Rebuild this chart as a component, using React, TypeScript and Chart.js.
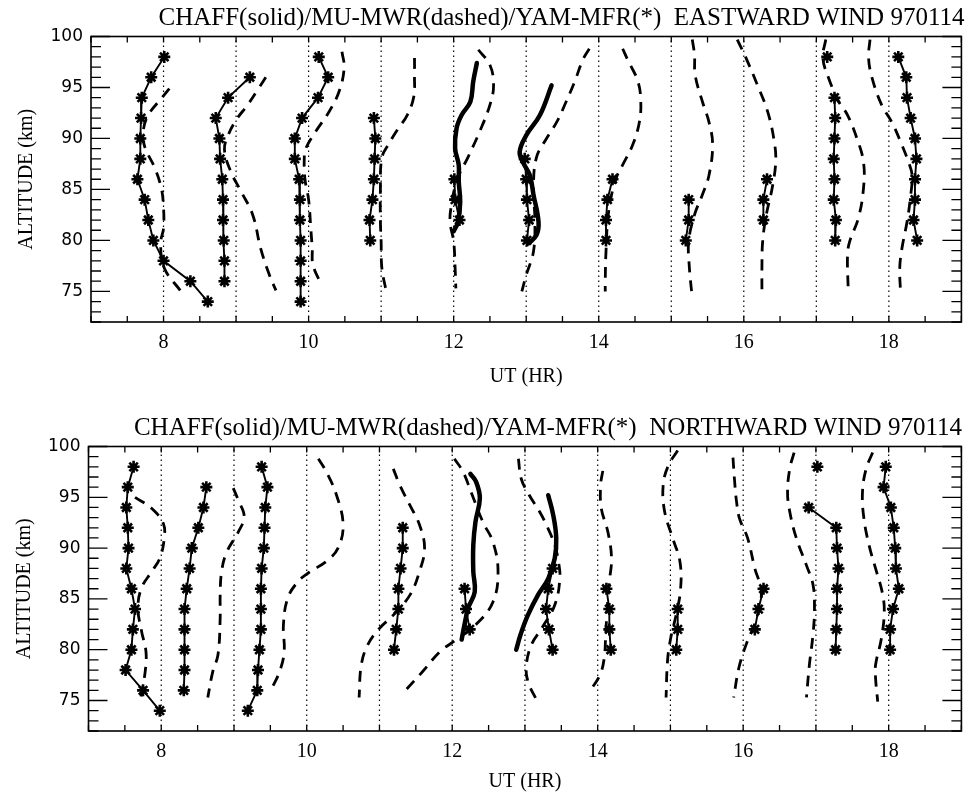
import React, { useEffect, useRef } from "react";
import { Chart, registerables } from "chart.js";

Chart.register(...registerables);

// ---------- axis settings ----------
const X_MIN = 7;
const X_MAX = 19;
const Y_MIN = 72;
const Y_MAX = 100;
const X_TICKS = [8, 10, 12, 14, 16, 18];
const Y_TICKS = [75, 80, 85, 90, 95, 100];
const HOUR_LINES = [8, 9, 10, 11, 12, 13, 14, 15, 16, 17, 18];

const TITLE_EAST = "CHAFF(solid)/MU-MWR(dashed)/YAM-MFR(*)  EASTWARD WIND 970114";
const TITLE_NORTH = "CHAFF(solid)/MU-MWR(dashed)/YAM-MFR(*)  NORTHWARD WIND 970114";

// ---------- EASTWARD: YAM-MFR (*) profiles [UT position, altitude km] ----------
const E_MFR_08 = [[8.01, 98], [7.83, 96], [7.7, 94], [7.69, 92], [7.68, 90], [7.68, 88], [7.64, 86], [7.74, 84], [7.79, 82], [7.86, 80], [8.0, 78], [8.37, 76], [8.61, 74]];
const E_MFR_09 = [[9.19, 96], [8.89, 94], [8.72, 92], [8.77, 90], [8.78, 88], [8.81, 86], [8.82, 84], [8.82, 82], [8.83, 80], [8.84, 78], [8.84, 76]];
const E_MFR_10 = [[10.14, 98], [10.27, 96], [10.13, 94], [9.91, 92], [9.81, 90], [9.81, 88], [9.87, 86], [9.88, 84], [9.88, 82], [9.89, 80], [9.89, 78], [9.89, 76], [9.89, 74]];
const E_MFR_11 = [[10.9, 92], [10.92, 90], [10.91, 88], [10.9, 86], [10.88, 84], [10.84, 82], [10.85, 80]];
const E_MFR_12 = [[12.01, 86], [12.02, 84], [12.08, 82]];
const E_MFR_13 = [[12.98, 88], [13.0, 86], [13.01, 84], [13.04, 82], [13.01, 80]];
const E_MFR_14 = [[14.19, 86], [14.12, 84], [14.1, 82], [14.1, 80]];
const E_MFR_15 = [[15.24, 84], [15.24, 82], [15.2, 80]];
const E_MFR_16 = [[16.32, 86], [16.27, 84], [16.27, 82]];
const E_MFR_17_SINGLE = [[17.15, 98]];
const E_MFR_17 = [[17.25, 94], [17.26, 92], [17.25, 90], [17.24, 88], [17.25, 86], [17.24, 84], [17.27, 82], [17.26, 80]];
const E_MFR_18 = [[18.13, 98], [18.24, 96], [18.25, 94], [18.3, 92], [18.36, 90], [18.38, 88], [18.36, 86], [18.36, 84], [18.34, 82], [18.39, 80]];

// ---------- EASTWARD: MU-MWR (dashed) ----------
const E_MWR_08 = [[8.08, 94.9], [7.99, 94.1], [7.79, 92.3], [7.72, 90.7], [7.74, 89.2], [7.88, 87.1], [7.97, 85.1], [8.0, 83.2], [8.0, 81.2], [7.96, 79.7], [8.01, 77.3], [8.24, 75.0]];
const E_MWR_09 = [[9.41, 96.0], [9.3, 94.8], [9.16, 93.3], [9.0, 91.8], [8.89, 90.3], [8.84, 88.9], [8.93, 86.7], [9.07, 84.8], [9.23, 82.5], [9.34, 79.2], [9.46, 76.6], [9.55, 75.1]];
const E_MWR_10 = [[10.46, 98.5], [10.49, 96.9], [10.42, 94.6], [10.28, 92.6], [10.1, 90.7], [9.96, 89.0], [9.94, 88.0], [9.95, 86.0], [10.0, 84.0], [10.03, 81.2], [10.05, 79.2], [10.06, 77.6], [10.18, 75.6]];
const E_MWR_11 = [[11.46, 97.9], [11.46, 96.1], [11.45, 94.1], [11.36, 92.3], [11.22, 90.8], [11.1, 89.4], [11.01, 88.1], [10.99, 85.0], [10.99, 81.8], [11.0, 79.9], [11.01, 77.3], [11.07, 75.0]];
const E_MWR_12 = [[12.34, 98.7], [12.5, 97.2], [12.55, 95.2], [12.5, 93.3], [12.36, 90.7], [12.2, 88.2], [12.05, 86.0], [11.97, 83.5], [11.95, 81.8], [12.0, 79.9], [12.02, 77.3], [12.03, 75.3]];
const E_MWR_13 = [[13.87, 98.8], [13.78, 97.7], [13.67, 95.6], [13.55, 93.6], [13.42, 91.6], [13.28, 90.0], [13.14, 88.1], [13.1, 85.0], [13.12, 82.0], [13.1, 78.9], [13.0, 76.6], [12.94, 75.0]];
const E_MWR_14 = [[14.33, 98.8], [14.4, 97.7], [14.54, 95.6], [14.58, 93.6], [14.56, 91.6], [14.47, 89.4], [14.33, 87.4], [14.24, 86.1], [14.14, 83.0], [14.1, 78.9], [14.09, 76.0], [14.09, 75.0]];
const E_MWR_15 = [[15.29, 99.7], [15.32, 98.2], [15.33, 96.2], [15.43, 93.6], [15.52, 91.6], [15.57, 89.4], [15.52, 86.4], [15.43, 84.5], [15.32, 82.5], [15.24, 79.9], [15.25, 77.3], [15.28, 75.0]];
const E_MWR_16 = [[15.91, 99.7], [16.03, 97.9], [16.19, 95.2], [16.33, 92.6], [16.42, 89.7], [16.44, 87.7], [16.39, 85.1], [16.31, 82.5], [16.26, 79.9], [16.25, 77.3], [16.25, 75.0]];
const E_MWR_17 = [[17.13, 99.7], [17.09, 97.9], [17.17, 95.9], [17.31, 93.6], [17.43, 92.3], [17.56, 90.0], [17.65, 87.7], [17.65, 85.1], [17.58, 82.2], [17.46, 79.9], [17.43, 78.6], [17.44, 75.0]];
const E_MWR_18 = [[17.74, 99.7], [17.72, 97.9], [17.77, 95.9], [17.9, 93.3], [18.04, 91.6], [18.16, 89.7], [18.27, 87.7], [18.32, 86.4], [18.29, 83.8], [18.25, 81.8], [18.18, 79.2], [18.15, 77.3], [18.16, 75.0]];

// ---------- EASTWARD: CHAFF (solid) ----------
const E_CHAFF_12 = [[12.32, 97.4], [12.27, 95.6], [12.23, 93.6], [12.11, 92.3], [12.04, 91.0], [12.02, 89.0], [12.07, 87.4], [12.07, 85.8], [12.09, 83.8], [12.06, 81.8], [12.0, 80.9]];
const E_CHAFF_13 = [[13.35, 95.2], [13.19, 92.3], [13.0, 90.3], [12.91, 88.7], [12.96, 87.6], [13.05, 86.4], [13.1, 84.5], [13.17, 81.8], [13.14, 80.5], [13.03, 79.7]];

// ---------- NORTHWARD: YAM-MFR (*) ----------
const N_MFR_08 = [[7.62, 98], [7.54, 96], [7.52, 94], [7.54, 92], [7.55, 90], [7.52, 88], [7.59, 86], [7.64, 84], [7.61, 82], [7.59, 80], [7.51, 78], [7.75, 76], [7.98, 74]];
const N_MFR_09 = [[8.62, 96], [8.58, 94], [8.51, 92], [8.42, 90], [8.39, 88], [8.35, 86], [8.32, 84], [8.32, 82], [8.32, 80], [8.32, 78], [8.31, 76]];
const N_MFR_10 = [[9.38, 98], [9.46, 96], [9.43, 94], [9.42, 92], [9.41, 90], [9.38, 88], [9.37, 86], [9.37, 84], [9.37, 82], [9.35, 80], [9.33, 78], [9.32, 76], [9.19, 74]];
const N_MFR_11 = [[11.32, 92], [11.32, 90], [11.29, 88], [11.26, 86], [11.26, 84], [11.23, 82], [11.2, 80]];
const N_MFR_12 = [[12.17, 86], [12.19, 84], [12.24, 82]];
const N_MFR_13 = [[13.38, 88], [13.32, 86], [13.29, 84], [13.33, 82], [13.38, 80]];
const N_MFR_14 = [[14.12, 86], [14.16, 84], [14.16, 82], [14.18, 80]];
const N_MFR_15 = [[15.1, 84], [15.1, 82], [15.08, 80]];
const N_MFR_16 = [[16.28, 86], [16.21, 84], [16.16, 82]];
const N_MFR_17_SINGLE = [[17.02, 98]];
const N_MFR_17 = [[16.9, 94], [17.28, 92], [17.29, 90], [17.31, 88], [17.29, 86], [17.29, 84], [17.28, 82], [17.27, 80]];
const N_MFR_18 = [[17.96, 98], [17.93, 96], [18.03, 94], [18.07, 92], [18.09, 90], [18.1, 88], [18.14, 86], [18.06, 84], [18.02, 82], [18.02, 80]];

// ---------- NORTHWARD: MU-MWR (dashed) ----------
const N_MWR_08 = [[7.64, 95.0], [7.87, 93.9], [8.03, 92.4], [8.04, 90.9], [7.98, 89.0], [7.87, 87.7], [7.73, 86.1], [7.68, 84.1], [7.73, 81.8], [7.79, 79.8], [7.78, 77.9], [7.72, 75.3]];
const N_MWR_09 = [[8.99, 95.9], [9.06, 94.7], [9.14, 93.1], [9.06, 91.6], [8.9, 89.6], [8.83, 87.7], [8.81, 85.4], [8.81, 83.1], [8.78, 79.5], [8.71, 77.9], [8.64, 75.3]];
const N_MWR_10 = [[10.16, 98.8], [10.27, 97.5], [10.41, 95.2], [10.5, 92.3], [10.43, 90.0], [10.27, 88.7], [10.03, 87.6], [9.88, 86.7], [9.74, 85.1], [9.68, 82.5], [9.69, 79.8], [9.63, 77.9], [9.52, 76.2]];
const N_MWR_11 = [[11.19, 97.8], [11.28, 96.2], [11.42, 94.2], [11.55, 92.3], [11.62, 90.0], [11.55, 87.7], [11.42, 85.4], [11.19, 83.4], [11.0, 82.1], [10.84, 80.5], [10.75, 78.5], [10.72, 75.3]];
const N_MWR_12 = [[12.03, 98.8], [12.15, 97.5], [12.26, 95.5], [12.42, 92.6], [12.56, 90.6], [12.63, 87.7], [12.56, 84.7], [12.33, 82.5], [12.06, 81.0], [11.83, 79.8], [11.6, 77.9], [11.37, 76.1]];
const N_MWR_13 = [[12.91, 98.8], [12.95, 96.8], [13.06, 95.2], [13.2, 93.6], [13.32, 91.9], [13.41, 90.3], [13.46, 88.7], [13.48, 87.0], [13.41, 84.4], [13.23, 82.1], [13.09, 80.5], [13.02, 78.5], [13.04, 76.9], [13.17, 74.9]];
const N_MWR_14 = [[14.07, 97.6], [14.04, 96.2], [14.05, 93.9], [14.14, 91.6], [14.19, 89.0], [14.16, 86.7], [14.13, 84.0], [14.11, 81.5], [14.09, 79.2], [14.03, 77.5], [13.89, 75.9]];
const N_MWR_15 = [[15.1, 99.6], [14.97, 98.1], [14.9, 96.2], [14.92, 93.6], [15.03, 91.0], [15.13, 88.7], [15.14, 86.0], [15.08, 83.5], [15.0, 81.0], [14.96, 78.9], [14.94, 75.3]];
const N_MWR_16 = [[15.86, 98.9], [15.88, 96.8], [15.91, 94.5], [15.95, 92.9], [16.06, 91.0], [16.16, 88.0], [16.25, 85.7], [16.18, 83.0], [16.04, 80.5], [15.94, 78.2], [15.87, 75.3]];
const N_MWR_17 = [[16.7, 99.4], [16.64, 97.8], [16.61, 95.5], [16.64, 93.6], [16.73, 91.0], [16.87, 88.3], [16.96, 86.4], [16.98, 84.0], [16.96, 81.5], [16.91, 78.5], [16.87, 75.3]];
const N_MWR_18 = [[17.78, 99.4], [17.69, 97.8], [17.64, 95.5], [17.66, 92.9], [17.73, 90.3], [17.82, 88.0], [17.91, 85.7], [17.94, 83.8], [17.9, 81.1], [17.82, 78.5], [17.82, 77.2], [17.85, 74.9]];

// ---------- NORTHWARD: CHAFF (solid) ----------
const N_CHAFF_12 = [[12.25, 97.3], [12.33, 96.5], [12.38, 94.9], [12.32, 92.6], [12.29, 90.3], [12.29, 87.7], [12.31, 85.7], [12.22, 84.1], [12.17, 82.5], [12.13, 81.0]];
const N_CHAFF_13 = [[13.32, 95.2], [13.39, 93.2], [13.43, 91.0], [13.41, 89.0], [13.32, 87.0], [13.18, 85.4], [13.04, 83.4], [12.94, 81.5], [12.88, 80.0]];

const EAST_MFR = [E_MFR_08, E_MFR_09, E_MFR_10, E_MFR_11, E_MFR_12, E_MFR_13, E_MFR_14, E_MFR_15, E_MFR_16, E_MFR_17, E_MFR_18];
const EAST_MFR_SINGLE = [E_MFR_17_SINGLE];
const EAST_MWR = [E_MWR_08, E_MWR_09, E_MWR_10, E_MWR_11, E_MWR_12, E_MWR_13, E_MWR_14, E_MWR_15, E_MWR_16, E_MWR_17, E_MWR_18];
const EAST_CHAFF = [E_CHAFF_12, E_CHAFF_13];

const NORTH_MFR = [N_MFR_08, N_MFR_09, N_MFR_10, N_MFR_11, N_MFR_12, N_MFR_13, N_MFR_14, N_MFR_15, N_MFR_16, N_MFR_17, N_MFR_18];
const NORTH_MFR_SINGLE = [N_MFR_17_SINGLE];
const NORTH_MWR = [N_MWR_08, N_MWR_09, N_MWR_10, N_MWR_11, N_MWR_12, N_MWR_13, N_MWR_14, N_MWR_15, N_MWR_16, N_MWR_17, N_MWR_18];
const NORTH_CHAFF = [N_CHAFF_12, N_CHAFF_13];

const toPts = (arr: number[][]) => arr.map(([x, y]) => ({ x, y }));

function buildDatasets(mfr: number[][][], single: number[][][], mwr: number[][][], chaff: number[][][]) {
  const ds: any[] = [];
  chaff.forEach((p) =>
    ds.push({ data: toPts(p), borderColor: "#000", borderWidth: 4.5, pointRadius: 0, tension: 0.4, borderCapStyle: "round", borderJoinStyle: "round" })
  );
  mfr.forEach((p) =>
    ds.push({ data: toPts(p), borderColor: "#000", backgroundColor: "#000", borderWidth: 1.9, tension: 0, pointStyle: "star", pointRadius: 6, pointBorderWidth: 2.6, pointBorderColor: "#000" })
  );
  single.forEach((p) =>
    ds.push({ data: toPts(p), showLine: false, pointStyle: "star", pointRadius: 6, pointBorderWidth: 2.6, pointBorderColor: "#000", borderColor: "#000" })
  );
  mwr.forEach((p) =>
    ds.push({ data: toPts(p), borderColor: "#000", borderWidth: 2.8, borderDash: [11, 8], pointRadius: 0, tension: 0.4 })
  );
  HOUR_LINES.forEach((h) =>
    ds.push({ data: [{ x: h, y: Y_MIN }, { x: h, y: Y_MAX }], borderColor: "#000", borderWidth: 1.2, borderDash: [1.5, 3.5], pointRadius: 0, tension: 0 })
  );
  return ds;
}

const framePlugin = {
  id: "idlFrame",
  afterDatasetsDraw(chart: any) {
    const { ctx, chartArea, scales } = chart;
    const { left, right, top, bottom } = chartArea;
    const x = scales.x;
    const y = scales.y;
    ctx.save();
    ctx.strokeStyle = "#000";
    ctx.lineWidth = 1.6;
    ctx.strokeRect(left, top, right - left, bottom - top);
    ctx.lineWidth = 1.3;
    ctx.beginPath();
    for (let v = Y_MIN; v <= Y_MAX; v += 1) {
      const py = y.getPixelForValue(v);
      const len = v % 5 === 0 ? 19 : 10;
      ctx.moveTo(left, py);
      ctx.lineTo(left + len, py);
      ctx.moveTo(right, py);
      ctx.lineTo(right - len, py);
    }
    for (let v = X_MIN; v <= X_MAX; v += 0.5) {
      const px = x.getPixelForValue(v);
      const len = 6;
      ctx.moveTo(px, bottom);
      ctx.lineTo(px, bottom - len);
      ctx.moveTo(px, top);
      ctx.lineTo(px, top + len);
    }
    ctx.stroke();
    ctx.restore();
  },
};

type PanelProps = {
  title: string;
  height: number;
  top: number;
  yAxisWidth: number;
  rightPad: number;
  xAxisHeight: number;
  xTitlePad: number;
  yTitlePad: number;
  datasets: any[];
};

function Panel(props: PanelProps) {
  const ref = useRef<HTMLCanvasElement | null>(null);
  useEffect(() => {
    if (!ref.current) return;
    const chart = new Chart(ref.current, {
      type: "line",
      data: { datasets: props.datasets },
      options: {
        animation: false,
        responsive: false,
        devicePixelRatio: 1,
        layout: { padding: { left: 0, right: props.rightPad, top: 0, bottom: 0 } },
        plugins: {
          legend: { display: false },
          tooltip: { enabled: false },
          title: {
            display: true,
            text: props.title,
            align: "end",
            color: "#000",
            font: { family: "'Liberation Serif', 'DejaVu Serif', serif", size: 25, weight: "normal" },
            padding: { top: 3, bottom: 3.5 },
          },
        },
        scales: {
          x: {
            type: "linear",
            min: X_MIN,
            max: X_MAX,
            grid: { display: false, drawTicks: false, tickLength: 0 },
            border: { display: false },
            afterBuildTicks: (s: any) => {
              s.ticks = X_TICKS.map((v) => ({ value: v }));
            },
            afterFit: (s: any) => {
              s.height = props.xAxisHeight;
            },
            ticks: {
              color: "#000",
              padding: 9,
              maxRotation: 0,
              autoSkip: false,
              font: { family: "'Liberation Serif', serif", size: 20 },
              callback: (v: any) => String(v),
            },
            title: {
              display: true,
              text: "UT (HR)",
              color: "#000",
              font: { family: "'Liberation Serif', serif", size: 20 },
              padding: { top: 0, bottom: props.xTitlePad },
            },
          },
          y: {
            type: "linear",
            min: Y_MIN,
            max: Y_MAX,
            grid: { display: false, drawTicks: false, tickLength: 0 },
            border: { display: false },
            afterBuildTicks: (s: any) => {
              s.ticks = Y_TICKS.map((v) => ({ value: v }));
            },
            afterFit: (s: any) => {
              s.width = props.yAxisWidth;
            },
            ticks: {
              color: "#000",
              padding: 8,
              autoSkip: false,
              font: { family: "'DejaVu Sans', 'Liberation Sans', sans-serif", size: 17 },
              callback: (v: any) => String(v),
            },
            title: {
              display: true,
              text: "ALTITUDE (km)",
              color: "#000",
              font: { family: "'Liberation Serif', serif", size: 20 },
              padding: { top: props.yTitlePad, bottom: 0 },
            },
          },
        },
      },
      plugins: [framePlugin],
    } as any);
    return () => chart.destroy();
  }, []);
  return (
    <canvas
      ref={ref}
      width={970}
      height={props.height}
      style={{ position: "absolute", left: 0, top: props.top, width: 970, height: props.height, display: "block" }}
    />
  );
}

export default function App() {
  return (
    <div style={{ position: "fixed", left: 0, top: 0, width: 970, height: 794, background: "#fff", overflow: "hidden" }}>
      <Panel
        title={TITLE_EAST}
        height={410}
        top={0}
        yAxisWidth={91}
        rightPad={5.5}
        xAxisHeight={88}
        xTitlePad={21}
        yTitlePad={15}
        datasets={buildDatasets(EAST_MFR, EAST_MFR_SINGLE, EAST_MWR, EAST_CHAFF)}
      />
      <Panel
        title={TITLE_NORTH}
        height={384}
        top={410}
        yAxisWidth={88.5}
        rightPad={8}
        xAxisHeight={63}
        xTitlePad={0}
        yTitlePad={13}
        datasets={buildDatasets(NORTH_MFR, NORTH_MFR_SINGLE, NORTH_MWR, NORTH_CHAFF)}
      />
    </div>
  );
}
